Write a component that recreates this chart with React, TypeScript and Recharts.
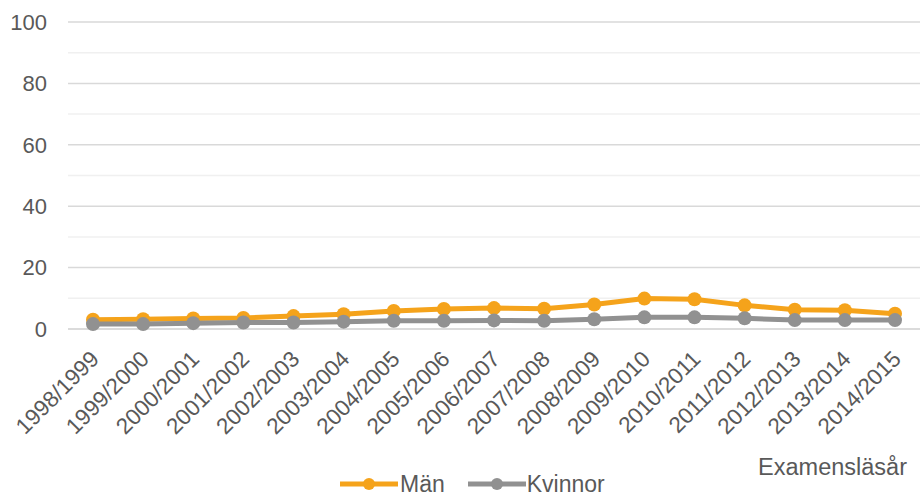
import React from 'react';
import { LineChart, Line, XAxis, YAxis, CartesianGrid, ReferenceLine, Legend } from 'recharts';

const categories = [
  '1998/1999', '1999/2000', '2000/2001', '2001/2002', '2002/2003', '2003/2004',
  '2004/2005', '2005/2006', '2006/2007', '2007/2008', '2008/2009', '2009/2010',
  '2010/2011', '2011/2012', '2012/2013', '2013/2014', '2014/2015',
];
const manValues = [3.0, 3.2, 3.4, 3.6, 4.2, 4.8, 5.9, 6.5, 6.8, 6.6, 8.0, 9.9, 9.7, 7.7, 6.3, 6.1, 5.0];
const kvinnorValues = [1.6, 1.6, 1.9, 2.1, 2.1, 2.4, 2.7, 2.7, 2.8, 2.7, 3.2, 3.8, 3.8, 3.5, 2.9, 2.9, 2.9];
const yTicks = [0, 20, 40, 60, 80, 100];
const minorTicks = [10, 30, 50, 70, 90];
const xAxisTitle = 'Examensläsår';

const ORANGE = '#F5A31B';
const GRAY = '#919191';
const TEXT = '#595959';
const FONT = '"Liberation Sans", Arial, sans-serif';

const data = categories.map((c, i) => ({ year: c, man: manValues[i], kvinnor: kvinnorValues[i] }));

const XTick = (props: any) => {
  const { x, y, payload } = props;
  return (
    <g transform={`translate(${x + 2},${y - 2})`}>
      <text
        x={0}
        y={0}
        transform="rotate(-45)"
        textAnchor="end"
        dominantBaseline="central"
        fill={TEXT}
        fontSize={22.5}
        fontFamily={FONT}
      >
        {payload.value}
      </text>
    </g>
  );
};

const LegendIcon = ({ color }: { color: string }) => (
  <svg width={58} height={14} style={{ display: 'block' }}>
    <line x1={0} y1={7} x2={58} y2={7} stroke={color} strokeWidth={5} />
    <circle cx={29} cy={7} r={6} fill={color} />
  </svg>
);

const LegendContent = () => (
  <div
    style={{
      height: 30,
      boxSizing: 'border-box',
      paddingTop: 8,
      paddingLeft: 340,
      display: 'flex',
      alignItems: 'center',
      fontFamily: FONT,
      fontSize: 23,
      color: TEXT,
      lineHeight: 'normal',
    }}
  >
    <LegendIcon color={ORANGE} />
    <span style={{ marginLeft: 2, marginRight: 23 }}>Män</span>
    <LegendIcon color={GRAY} />
    <span style={{ marginLeft: 1 }}>Kvinnor</span>
  </div>
);

const AxisTitle = (props: any) => {
  const vb = props.viewBox || {};
  return (
    <text
      x={vb.x + vb.width - 13}
      y={vb.y + 146}
      textAnchor="end"
      fill={TEXT}
      fontSize={23.5}
      fontFamily={FONT}
    >
      {xAxisTitle}
    </text>
  );
};

export default function App() {
  return (
    <div style={{ position: 'absolute', left: 0, top: 0, width: 920, height: 495, background: '#fff' }}>
      <LineChart width={920} height={495} data={data} margin={{ top: 22, right: 0, bottom: 0, left: 0 }}>
        <CartesianGrid vertical={false} stroke="#d9d9d9" strokeWidth={1.5} />
        {minorTicks.map((v) => (
          <ReferenceLine key={v} y={v} stroke="#f0f0f0" strokeWidth={1.5} ifOverflow="visible" />
        ))}
        <XAxis
          dataKey="year"
          interval={0}
          height={136}
          padding={{ left: 25, right: 25 }}
          tickLine={false}
          tickSize={0}
          tickMargin={28}
          axisLine={{ stroke: '#d9d9d9', strokeWidth: 1.5 }}
          tick={<XTick />}
          label={<AxisTitle />}
        />
        <YAxis
          domain={[0, 100]}
          ticks={yTicks}
          width={68}
          axisLine={false}
          tickLine={false}
          tickSize={0}
          tickMargin={21}
          tick={{ fill: TEXT, fontSize: 22, fontFamily: FONT }}
        />
        <Legend verticalAlign="bottom" align="left" content={<LegendContent />} />
        <Line
          dataKey="man"
          name="Män"
          stroke={ORANGE}
          strokeWidth={5}
          dot={{ r: 7, fill: ORANGE, stroke: ORANGE, strokeWidth: 0 }}
          isAnimationActive={false}
        />
        <Line
          dataKey="kvinnor"
          name="Kvinnor"
          stroke={GRAY}
          strokeWidth={5}
          dot={{ r: 7, fill: GRAY, stroke: GRAY, strokeWidth: 0 }}
          isAnimationActive={false}
        />
      </LineChart>
    </div>
  );
}
